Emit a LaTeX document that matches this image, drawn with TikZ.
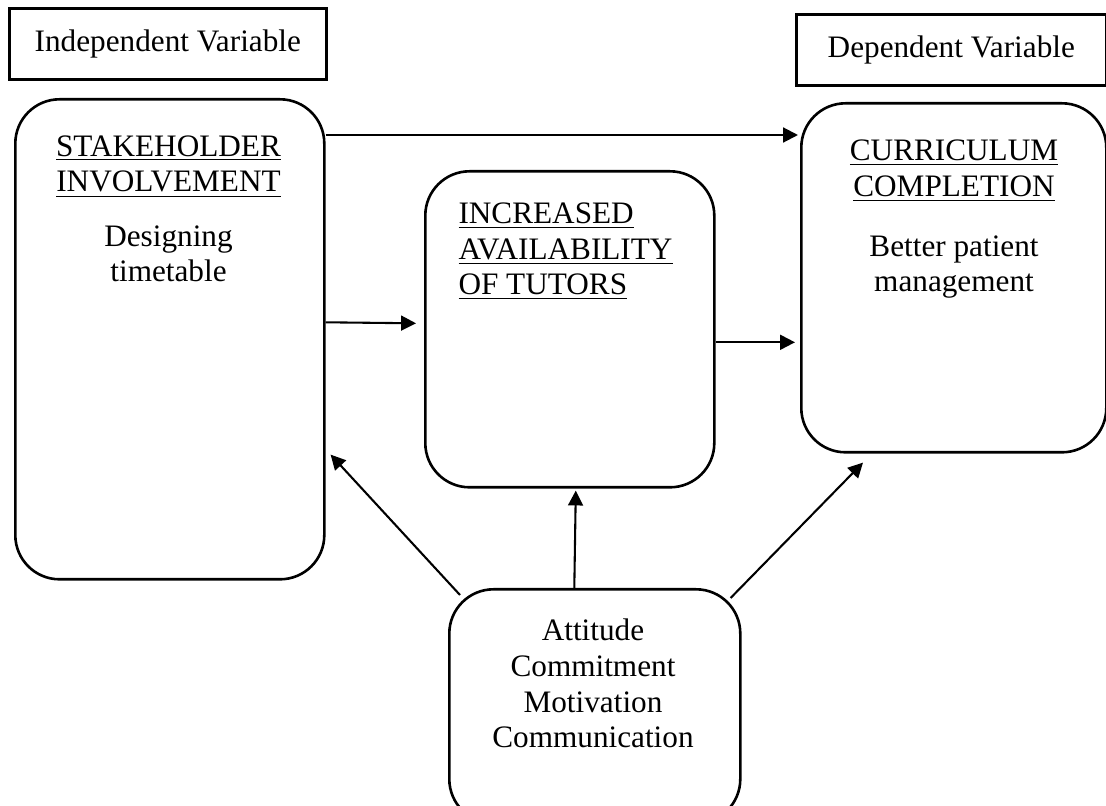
\documentclass[tikz,border=0pt]{standalone}
\usepackage{fontspec}
\setmainfont{Liberation Serif}
\usetikzlibrary{arrows.meta,calc}
\newcommand{\pxu}{0.0135cm}

\begin{document}
\begin{tikzpicture}[x=0.0135cm,y=-0.0135cm,
        every node/.style={font=\fontsize{12}{13.8}\selectfont},
        varbox/.style={draw,rectangle,line width=1pt,inner sep=0pt,anchor=north west},
        roundbox/.style={varbox,rounded corners=17pt},
        boxtext/.style={inner sep=0pt,anchor=base,align=center},
        arr/.style={line width=0.8pt,-{Triangle[length=5.7pt,width=5.7pt]}}]
        \useasboundingbox (0,0) rectangle (1106,806);
        \node[varbox,minimum width=317*\pxu,minimum height=71*\pxu] (indep) at (8,7) {Independent Variable};
        \node[varbox,minimum width=310*\pxu,minimum height=71*\pxu] (dep) at (795,13) {Dependent Variable};
        \node[roundbox,minimum width=309*\pxu,minimum height=480*\pxu] (stake) at (14,98) {};
        \node[roundbox,minimum width=289*\pxu,minimum height=316*\pxu] (incr) at (424,170) {};
        \node[roundbox,minimum width=305*\pxu,minimum height=349*\pxu] (curr) at (800,102) {};
        \node[roundbox,minimum width=291*\pxu,minimum height=234*\pxu] (attr) at (448,588) {};
        \node[boxtext] (staketext) at (168.5,282)
        {\underline{STAKEHOLDER}\\\underline{INVOLVEMENT}\\[7pt]Designing\\timetable};
        \node[boxtext,anchor=base west,align=left] (incrtext) at (458,295)
        {\underline{INCREASED}\\\underline{AVAILABILITY}\\\underline{OF TUTORS}};
        \node[boxtext] (currtext) at (954,292)
        {\underline{CURRICULUM}\\\underline{COMPLETION}\\[9pt]Better patient\\management};
        \node[boxtext] (attrtext) at (593,748)
        {Attitude\\Commitment\\Motivation\\Communication};
        \draw[arr] ($(stake.north east)+(0,37)$) -- ($(curr.north west)+(-2,33)$);
        \draw[arr] ($(stake.east)+(0,-17)$) -- ($(incr.west)+(-8,-6)$);
        \draw[arr] ($(incr.east)+(0,13)$) -- ($(curr.west)+(-5,64.5)$);
        \draw[arr] ($(attr.north west)+(12,7)$) -- ($(stake.south east)+(5,-126)$);
        \draw[arr] ($(attr.north)+(-20.5,0)$) -- ($(incr.south)+(6,2)$);
        \draw[arr] ($(attr.north east)+(-11,10)$) -- ($(curr.south west)+(63,9)$);
\end{tikzpicture}
\end{document}
